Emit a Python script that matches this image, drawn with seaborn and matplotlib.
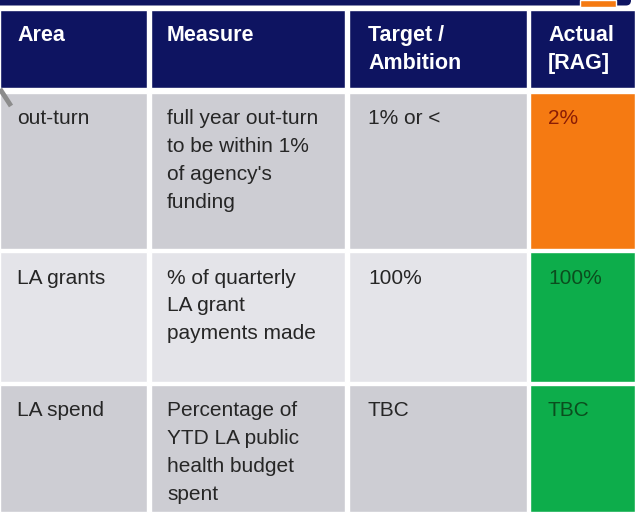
"""
RAG status table - finance measures
"""

import matplotlib
matplotlib.use("Agg")
import matplotlib.pyplot as plt
from matplotlib import font_manager
from matplotlib.patches import FancyBboxPatch
import seaborn as sns

sns.set_theme(style="white")

# ---------------------------------------------
# Data
# ---------------------------------------------

headers = ["Area", "Measure", "Target /\nAmbition", "Actual\n[RAG]"]
areas = ["out-turn", "LA grants", "LA spend"]
measures = [
    "full year out-turn\nto be within 1%\nof agency's\nfunding",
    "% of quarterly\nLA grant\npayments made",
    "Percentage of\nYTD LA public\nhealth budget\nspent",
]
targets = ["1% or <", "100%", "TBC"]
actuals = ["2%", "100%", "TBC"]
rag = ["Amber", "Green", "Green"]

# ---------------------------------------------
# Layout / style (pixels)
# ---------------------------------------------

col_left = [0, 151, 349, 530]
col_right = [147, 345, 527, 635]
row_top = [10, 93, 252, 385]          # header, rows 1-3
row_bottom = [88, 249, 382, 512]
text_x = [17, 167, 368, 548]
line_step = 27.8

NAVY = "#0E1461"
ROW_FILL = ["#CDCDD3", "#E4E4E9", "#CDCDD3"]
RAG_FILL = {"Amber": "#F57A12", "Green": "#0DAD4B"}
RAG_TEXT = {"Amber": "#8A1C05", "Green": "#0B4D1E"}
TEXT = "#262626"

names = {f.name for f in font_manager.fontManager.ttflist}
if "Liberation Sans Narrow" in names:
    FONT, BODY_SIZE, HEAD_SIZE = "Liberation Sans Narrow", 17.5, 18
else:
    FONT, BODY_SIZE, HEAD_SIZE = "Liberation Sans", 15, 15.5

# ---------------------------------------------
# Figure
# ---------------------------------------------

fig = plt.figure(figsize=(6.35, 5.19), dpi=100)
ax = fig.add_axes([0, 0, 1, 1])
ax.set_xlim(0, 635)
ax.set_ylim(519, 0)
ax.axis("off")

# top strip with small orange marker
ax.add_patch(FancyBboxPatch((-10, -10), 641, 15.5,
                            boxstyle="round,pad=0,rounding_size=5",
                            facecolor=NAVY, edgecolor="none"))
ax.bar(580, 6.5, width=36, bottom=0, align="edge", color="#F57A12")

# header cells
widths = [r - l for l, r in zip(col_left, col_right)]
ax.bar(col_left, row_bottom[0] - row_top[0], width=widths,
       bottom=row_top[0], align="edge", color=NAVY)

for c, head in enumerate(headers):
    for k, line in enumerate(head.split("\n")):
        ax.text(text_x[c], 41 + k * line_step, line, color="white",
                fontsize=HEAD_SIZE, fontweight="bold", family=FONT,
                va="baseline", ha="left")

# body rows
for i in range(len(areas)):
    top, bottom = row_top[i + 1], row_bottom[i + 1]
    fills = [ROW_FILL[i]] * 3 + [RAG_FILL[rag[i]]]
    ax.bar(col_left, bottom - top, width=widths, bottom=top,
           align="edge", color=fills)

    base = top + 31.5
    cells = [areas[i], measures[i], targets[i], actuals[i]]
    colors = [TEXT, TEXT, TEXT, RAG_TEXT[rag[i]]]
    for c, cell in enumerate(cells):
        for k, line in enumerate(cell.split("\n")):
            ax.text(text_x[c], base + k * line_step, line, color=colors[c],
                    fontsize=BODY_SIZE, family=FONT,
                    va="baseline", ha="left")

# small grey corner mark
ax.plot([0, 11], [89, 106], color="#8C8C8C", lw=3.5, solid_capstyle="butt")

fig.savefig("out.png", dpi=100)
plt.close(fig)
